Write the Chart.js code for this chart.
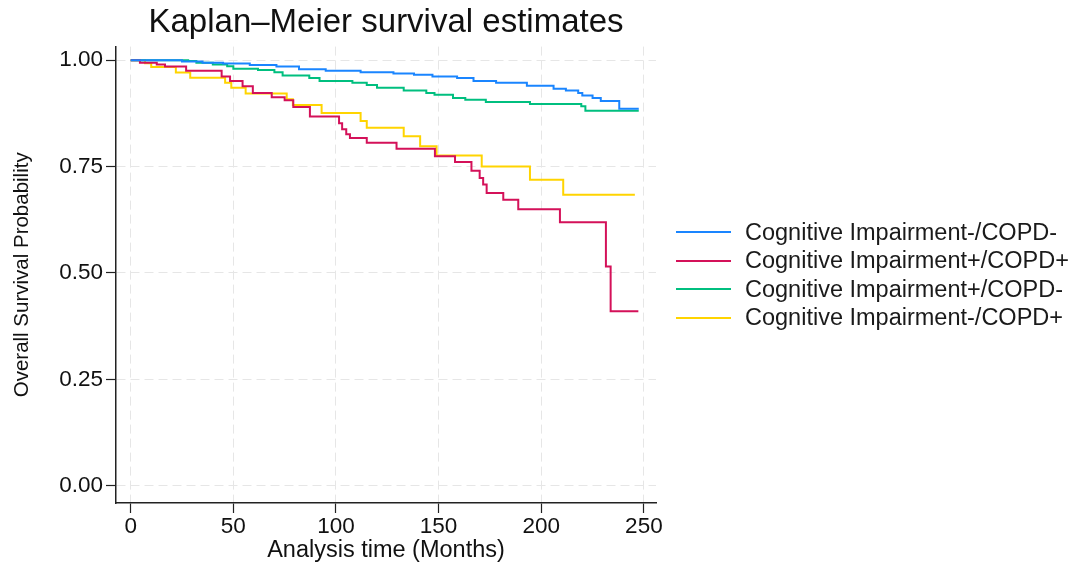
<!DOCTYPE html>
<html>
<head>
<meta charset="utf-8">
<script src="https://cdn.jsdelivr.net/npm/chart.js@4/dist/chart.umd.min.js"></script>
<style>
  body { margin: 0; background: #fff; }
  #wrap { position: relative; width: 1075px; height: 562px; }
  #legend { position: absolute; left: 676px; top: 218px; font-family: "Liberation Sans", Arial, sans-serif; font-size: 23.5px; color: #1a1a1a; }
  #legend .row { display: flex; align-items: center; height: 28.5px; white-space: nowrap; }
  #legend .swatch { width: 55px; height: 2px; margin-right: 14px; }
</style>
</head>
<body>
<div id="wrap">
  <canvas id="kmChart" width="1075" height="562"></canvas>
  <div id="legend"></div>
</div>
<script>
// groups, in legend order
const groupNames = [
    'Cognitive Impairment-/COPD-',
    'Cognitive Impairment+/COPD+',
    'Cognitive Impairment+/COPD-',
    'Cognitive Impairment-/COPD+'
];
const groupColors = ['#1a85ff', '#d41159', '#00bf7f', '#ffd400'];

// step times (months) and survival after each step
const timeNegNeg = [0, 25, 35, 45, 58, 71, 82, 95, 112, 128, 138, 147, 159, 167, 178, 193, 206, 212, 218, 220, 225, 229, 238, 247.5];
const survNegNeg = [1, 0.997, 0.994, 0.992, 0.989, 0.985, 0.979, 0.975, 0.972, 0.969, 0.966, 0.962, 0.958, 0.951, 0.947, 0.94, 0.933, 0.929, 0.923, 0.917, 0.911, 0.904, 0.886, 0.886];

const timePosPos = [0, 4.5, 12.7, 16.7, 27, 44.3, 48.4, 54.5, 59.5, 68.7, 75, 79.2, 87.3, 101.5, 103, 105, 106.8, 115, 129.5, 148.2, 158, 166, 170, 171.7, 173.4, 181.5, 188.8, 209.1, 231.5, 233.8, 247.3];
const survPosPos = [1, 0.994, 0.99, 0.985, 0.975, 0.962, 0.951, 0.939, 0.923, 0.913, 0.906, 0.89, 0.868, 0.852, 0.838, 0.826, 0.817, 0.806, 0.792, 0.774, 0.761, 0.74, 0.723, 0.708, 0.688, 0.672, 0.65, 0.619, 0.515, 0.41, 0.41];

const timePosNeg = [0, 28, 32, 40, 47, 50, 62, 70, 74, 87, 92, 108, 115, 120, 133, 144, 148, 157, 163, 173, 194.5, 219.5, 221.5, 247.5];
const survPosNeg = [1, 0.998, 0.994, 0.99, 0.986, 0.98, 0.977, 0.972, 0.964, 0.958, 0.951, 0.947, 0.942, 0.935, 0.929, 0.923, 0.919, 0.911, 0.907, 0.902, 0.897, 0.892, 0.881, 0.881];

const timeNegPos = [0, 7, 10, 22, 29, 46, 49, 56, 76, 79, 93, 112, 115, 133, 141, 149, 171, 194.5, 210.7, 245.6];
const survNegPos = [1, 0.993, 0.984, 0.971, 0.959, 0.947, 0.935, 0.922, 0.908, 0.895, 0.876, 0.857, 0.841, 0.821, 0.798, 0.776, 0.75, 0.719, 0.684, 0.684];

const xTicks = [0, 50, 100, 150, 200, 250];
const yTicks = [0, 0.25, 0.5, 0.75, 1];

const allTimes = [timeNegNeg, timePosPos, timePosNeg, timeNegPos];
const allSurv = [survNegNeg, survPosPos, survPosNeg, survNegPos];

const font = '"Liberation Sans", Arial, sans-serif';

const datasets = groupNames.map((name, i) => ({
    label: name,
    data: allTimes[i].map((t, j) => ({ x: t, y: allSurv[i][j] })),
    borderColor: groupColors[i],
    backgroundColor: groupColors[i],
    borderWidth: 2,
    pointRadius: 0,
    stepped: 'before',
    fill: false
}));

const ctx = document.getElementById('kmChart');
new Chart(ctx, {
    type: 'line',
    data: { datasets: datasets },
    options: {
        responsive: false,
        animation: false,
        layout: { padding: { right: 419 } },
        plugins: {
            legend: { display: false },
            tooltip: { enabled: false },
            title: {
                display: true,
                text: 'Kaplan\u2013Meier survival estimates',
                fullSize: false,
                color: '#111',
                font: { family: font, size: 33, weight: 'normal' },
                padding: { top: 3, bottom: 4 }
            }
        },
        scales: {
            x: {
                type: 'linear',
                min: -7.16,
                max: 255.9,
                afterBuildTicks: scale => { scale.ticks = xTicks.map(v => ({ value: v })); },
                afterFit: scale => { scale.height = 59; },
                ticks: { color: '#111', font: { family: font, size: 22.5 }, padding: 0, maxRotation: 0 },
                grid: { color: '#e6e6e6', lineWidth: 1, tickColor: '#222', tickLength: 10, tickWidth: 1.2 },
                border: { display: true, color: '#222', width: 1.5, dash: [9, 5] },
                title: { display: true, text: 'Analysis time (Months)', color: '#111', font: { family: font, size: 23.5, lineHeight: 1 }, padding: { top: 0, bottom: 0 } }
            },
            y: {
                type: 'linear',
                min: -0.0407,
                max: 1.032,
                afterBuildTicks: scale => { scale.ticks = yTicks.map(v => ({ value: v })); },
                afterFit: scale => { scale.width = 116; },
                ticks: { color: '#111', font: { family: font, size: 22.5 }, padding: 3, callback: v => v.toFixed(2) },
                grid: { color: '#e6e6e6', lineWidth: 1, tickColor: '#222', tickLength: 10, tickWidth: 1.2 },
                border: { display: true, color: '#222', width: 1.5, dash: [9, 5] },
                title: { display: true, text: 'Overall Survival Probability', color: '#111', font: { family: font, size: 20.5 }, padding: { top: 10, bottom: 0 } }
            }
        }
    }
});

// legend drawn as html next to the plot
const legendBox = document.getElementById('legend');
groupNames.forEach((name, i) => {
    const row = document.createElement('div');
    row.className = 'row';
    const swatch = document.createElement('span');
    swatch.className = 'swatch';
    swatch.style.background = groupColors[i];
    const label = document.createElement('span');
    label.textContent = name;
    row.appendChild(swatch);
    row.appendChild(label);
    legendBox.appendChild(row);
});
</script>
</body>
</html>
